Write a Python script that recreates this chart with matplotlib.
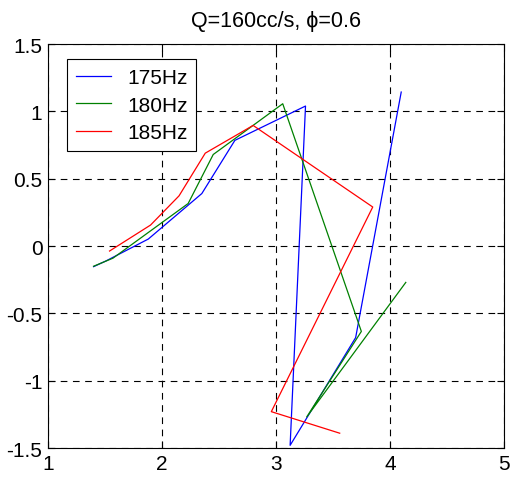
import matplotlib
matplotlib.use("Agg")
import matplotlib.pyplot as plt

plt.rcParams['font.family'] = ['Liberation Sans', 'DejaVu Sans']

x175 = [1.40, 1.51, 1.88, 2.35, 2.64, 3.26, 3.125, 3.70, 4.10]
y175 = [-0.153, -0.11, 0.052, 0.39, 0.785, 1.04, -1.48, -0.68, 1.144]
x180 = [1.40, 1.57, 2.23, 2.45, 3.06, 3.75, 3.27, 4.14]
y180 = [-0.15, -0.09, 0.316, 0.68, 1.057, -0.634, -1.27, -0.27]
x185 = [1.54, 1.90, 2.15, 2.38, 2.80, 3.85, 2.96, 3.56]
y185 = [-0.037, 0.156, 0.373, 0.69, 0.896, 0.29, -1.23, -1.39]
labels = ['175Hz', '180Hz', '185Hz']
xticks = [1, 2, 3, 4, 5]
yticks = [-1.5, -1, -0.5, 0, 0.5, 1, 1.5]
title = 'Q=160cc/s, \u03d5=0.6'

fig = plt.figure(figsize=(5.13, 4.85), dpi=100)
ax = fig.add_axes([0.0936, 0.0742, 0.8884, 0.8328])
ax.plot(x175, y175, color='#0000ff', lw=0.9, label=labels[0])
ax.plot(x180, y180, color='#008000', lw=0.9, label=labels[1])
ax.plot(x185, y185, color='#ff0000', lw=0.9, label=labels[2])
ax.set_xlim(1, 5)
ax.set_ylim(-1.5, 1.5)
ax.set_xticks(xticks)
ax.set_yticks(yticks)
ax.set_xticklabels([str(v) for v in xticks])
ax.set_yticklabels(['-1.5', '-1', '-0.5', '0', '0.5', '1', '1.5'])
ax.grid(True, color='black', linestyle=(0, (6, 5)), linewidth=0.8)
ax.tick_params(direction='in', top=True, right=True, labelsize=15, length=5, width=0.8, pad=4)
for s in ax.spines.values():
    s.set_linewidth(0.8)
ax.set_title(title, fontsize=15.5, pad=13)
leg = ax.legend(loc='upper left', bbox_to_anchor=(0.0417, 0.963), borderaxespad=0,
                fontsize=15, frameon=True,
                fancybox=False, edgecolor='black', framealpha=1, handlelength=1.68,
                handletextpad=0.78, borderpad=0.42, labelspacing=0.42)
leg.get_frame().set_linewidth(0.8)
fig.savefig('out.png', dpi=100)
